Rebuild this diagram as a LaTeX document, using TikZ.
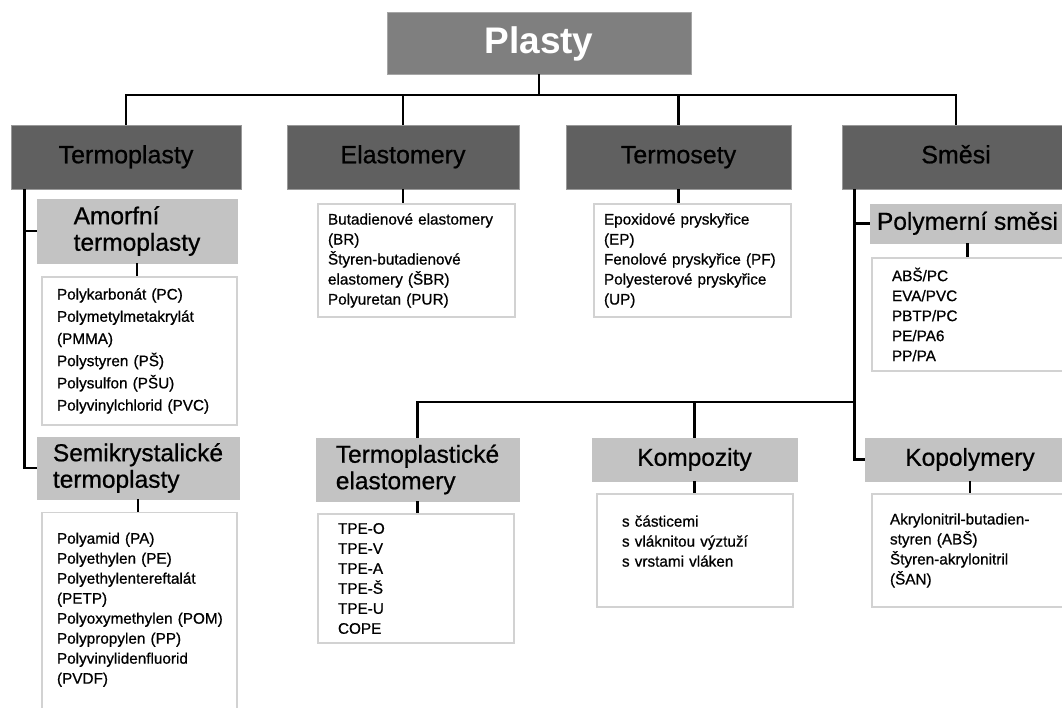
\documentclass[tikz,border=0pt]{standalone}
\usepackage{fontspec}
\setmainfont{Liberation Sans}
\newfontfamily\heavyfont{Liberation Sans}[FakeBold=0.7]
\usepackage{xcolor}
\usepackage{tikz}
\definecolor{boxtop}{HTML}{7F7F7F}
\definecolor{boxdark}{HTML}{606060}
\definecolor{boxlight}{HTML}{C3C3C3}
\definecolor{listframe}{HTML}{D2D2D2}

\begin{document}
\begin{tikzpicture}[x=1pt,y=-1pt,
  root/.style={fill=boxtop, draw=gray!70, line width=0.6pt, text=white, font=\bfseries\fontsize{37}{40}\selectfont, minimum width=304pt, minimum height=62pt, inner sep=0pt, text height=27pt, text depth=6pt},
  group/.style={fill=boxdark, draw=gray!80, line width=0.6pt, font=\heavyfont\fontsize{25}{28}\selectfont, minimum height=64pt, inner sep=0pt, text height=18pt, text depth=5.5pt},
  sub/.style={fill=boxlight, draw=boxlight, line width=0.6pt, font=\heavyfont\fontsize{24.5}{26.5}\selectfont, align=left, inner sep=0pt},
  oneline/.style={text height=17.5pt, text depth=5pt},
  list/.style={fill=white, draw=listframe, line width=1.2pt, font=\heavyfont\fontsize{15.3}{20}\selectfont, align=left, inner ysep=0pt},
  link/.style={draw=black, line width=2.8pt}]
\path[use as bounding box, fill=white] (0,0) rectangle (1062,707);
\node[root] (plasty) at (539,43) {Plasty};
\node[group, minimum width=230pt] (termo) at (126,157) {Termoplasty};
\node[group, minimum width=232pt] (elast) at (403,157) {Elastomery};
\node[group, minimum width=225pt] (tset) at (678.5,157) {Termosety};
\node[group, minimum width=228pt] (smesi) at (956,157) {Směsi};
\node[sub, minimum width=200pt, minimum height=64pt] (amorf) at (137,231) {Amorfní\\termoplasty};
\node[sub, minimum width=202pt, minimum height=62pt] (semi) at (138,468) {Semikrystalické\\termoplasty};
\node[sub, oneline, minimum width=195pt, minimum height=39pt] (polym) at (967.5,223.5) {Polymerní směsi};
\node[sub, minimum width=203pt, minimum height=63pt] (tpe) at (417.5,469.5) {Termoplastické\\elastomery};
\node[sub, oneline, minimum width=205pt, minimum height=43pt] (kompo) at (694.5,459.5) {Kompozity};
\node[sub, oneline, minimum width=210pt, minimum height=43pt] (kopol) at (970,459.5) {Kopolymery};
\node[list, inner xsep=15pt, text width=165pt, minimum height=148pt, font=\heavyfont\fontsize{15.3}{22.2}\selectfont] (amorfl) at (139.5,351) {Polykarbonát~(PC)\\Polymetylmetakrylát\\(PMMA)\\Polystyren~(PŠ)\\Polysulfon~(PŠU)\\Polyvinylchlorid~(PVC)};
\node[list, anchor=north, inner xsep=15pt, inner ysep=20pt, text width=165pt, text depth=200pt] (semil) at (139.5,512) {Polyamid~(PA)\\Polyethylen~(PE)\\Polyethylentereftalát\\(PETP)\\Polyoxymethylen~(POM)\\Polypropylen~(PP)\\Polyvinylidenfluorid\\(PVDF)};
\node[list, inner xsep=10pt, text width=177pt, minimum height=113pt] (elastl) at (416.5,260.5) {Butadienové~elastomery\\(BR)\\Štyren-butadienové\\elastomery~(ŠBR)\\Polyuretan~(PUR)};
\node[list, inner xsep=10pt, text width=177pt, minimum height=113pt] (tsetl) at (692.5,260.5) {Epoxidové~pryskyřice\\(EP)\\Fenolové~pryskyřice~(PF)\\Polyesterové~pryskyřice\\(UP)};
\node[list, inner xsep=20pt, text width=163pt, minimum height=113pt] (polyml) at (973.5,314.5) {ABŠ/PC\\EVA/PVC\\PBTP/PC\\PE/PA6\\PP/PA};
\node[list, inner xsep=20pt, text width=156pt, minimum height=129pt] (tpel) at (416,578.5) {TPE-O\\TPE-V\\TPE-A\\TPE-Š\\TPE-U\\COPE};
\node[list, inner xsep=25pt, text width=146pt, minimum height=113pt, text depth=59pt] (kompol) at (695,550.5) {s~částicemi\\s~vláknitou~výztuží\\s~vrstami~vláken};
\node[list, inner xsep=18pt, text width=167pt, minimum height=113pt] (kopoll) at (973.5,550.5) {Akrylonitril-butadien-\\styren~(ABŠ)\\Štyren-akrylonitril\\(ŠAN)};
\coordinate (bus) at (539,95);
\coordinate (tleft) at ([xshift=14pt]termo.south west);
\coordinate (sright) at ([xshift=13pt]smesi.south west);
\coordinate (hub) at (855,402);
\draw[link] (plasty) -- (bus);
\draw[link] (termo) |- (bus) -| (smesi);
\draw[link] (elast) -- (elast |- bus);
\draw[link] (tset) -- (tset |- bus);
\draw[link] (tleft) |- (semi);
\draw[link] (tleft |- amorf) -- (amorf);
\draw[link] (amorf) -- (amorf |- amorfl.north);
\draw[link] (semi) -- (semi |- semil.north);
\draw[link] (elast) -- (elast |- elastl.north);
\draw[link] (tset) -- (tset |- tsetl.north);
\draw[link] (sright) |- (kopol);
\draw[link] (sright |- polym) -- (polym);
\draw[link] (tpe) |- (hub);
\draw[link] (kompo) -- (kompo |- hub);
\draw[link] (polym) -- (polym |- polyml.north);
\draw[link] (tpe) -- (tpe |- tpel.north);
\draw[link] (kompo) -- (kompo |- kompol.north);
\draw[link] (kopol) -- (kopol |- kopoll.north);
\end{tikzpicture}
\end{document}
